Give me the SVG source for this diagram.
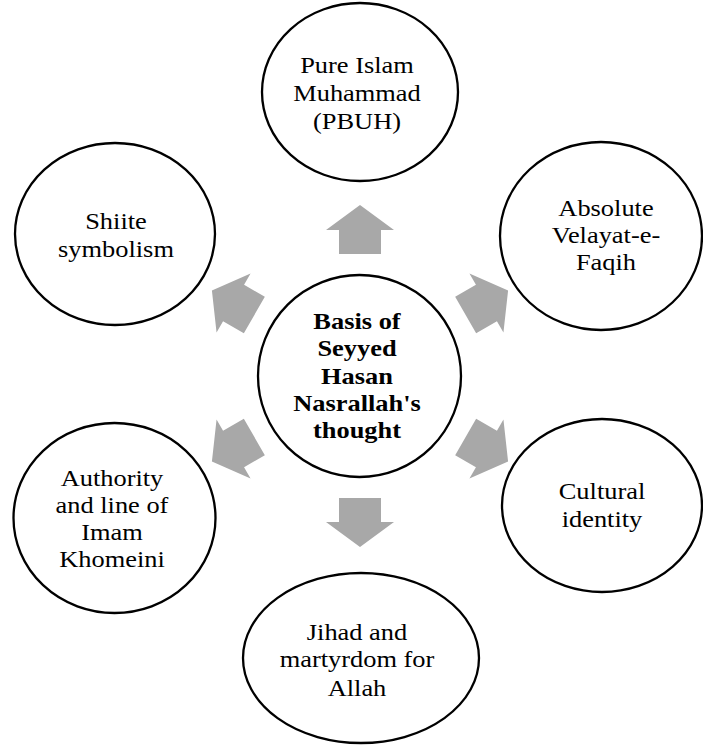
<svg xmlns="http://www.w3.org/2000/svg" width="703" height="746" viewBox="0 0 703 746">
<defs>
<style>
.node{fill:none;stroke:#000;stroke-width:2.3}
.lbl{font-family:'Liberation Serif','Times New Roman',serif;font-size:24px;fill:#000;text-anchor:middle}
.hub{font-weight:bold}
.arr{fill:#a8a8a8}
</style>
<path id="arrow" d="M360,205 L394,230 L381,230 L381,254 L339,254 L339,230 L326,230 Z"/>
</defs>
<rect width="703" height="746" fill="#fff"/>
<g id="connectors">
<use href="#arrow" class="arr"/>
<use href="#arrow" class="arr" transform="rotate(60 360 376)"/>
<use href="#arrow" class="arr" transform="rotate(120 360 376)"/>
<use href="#arrow" class="arr" transform="rotate(180 360 376)"/>
<use href="#arrow" class="arr" transform="rotate(240 360 376)"/>
<use href="#arrow" class="arr" transform="rotate(300 360 376)"/>
</g>
<g id="hub">
<ellipse class="node" cx="359.5" cy="376" rx="101.5" ry="101"/>
<text class="lbl hub" transform="matrix(1.1,0,0,1,-35.7,0)"><tspan x="357" y="329">Basis of</tspan><tspan x="357" y="356">Seyyed</tspan><tspan x="357" y="384">Hasan</tspan><tspan x="357" y="411">Nasrallah's</tspan><tspan x="357" y="438">thought</tspan></text>
</g>
<g id="pure-islam">
<ellipse class="node" cx="360" cy="92" rx="98" ry="89"/>
<text class="lbl" transform="matrix(1.1,0,0,1,-35.7,0)"><tspan x="357" y="73">Pure Islam</tspan><tspan x="357" y="101">Muhammad</tspan><tspan x="357" y="129">(PBUH)</tspan></text>
</g>
<g id="velayat">
<ellipse class="node" cx="601" cy="236" rx="101" ry="94"/>
<text class="lbl" transform="matrix(1.1,0,0,1,-60.6,0)"><tspan x="606" y="216">Absolute</tspan><tspan x="606" y="243">Velayat-e-</tspan><tspan x="606" y="270">Faqih</tspan></text>
</g>
<g id="cultural">
<ellipse class="node" cx="602" cy="505.5" rx="100" ry="86.5"/>
<text class="lbl" transform="matrix(1.1,0,0,1,-60.2,0)"><tspan x="602" y="499">Cultural</tspan><tspan x="602" y="527">identity</tspan></text>
</g>
<g id="jihad">
<ellipse class="node" cx="361" cy="658" rx="118" ry="85"/>
<text class="lbl" transform="matrix(1.1,0,0,1,-35.7,0)"><tspan x="357" y="640">Jihad and</tspan><tspan x="357" y="667">martyrdom for</tspan><tspan x="357" y="696">Allah</tspan></text>
</g>
<g id="authority">
<ellipse class="node" cx="114.5" cy="518" rx="101" ry="95"/>
<text class="lbl" transform="matrix(1.1,0,0,1,-11.2,0)"><tspan x="112" y="486">Authority</tspan><tspan x="112" y="513">and line of</tspan><tspan x="112" y="540">Imam</tspan><tspan x="112" y="567">Khomeini</tspan></text>
</g>
<g id="shiite">
<ellipse class="node" cx="115" cy="234" rx="100" ry="91"/>
<text class="lbl" transform="matrix(1.1,0,0,1,-11.6,0)"><tspan x="116" y="229">Shiite</tspan><tspan x="116" y="257">symbolism</tspan></text>
</g>
</svg>
